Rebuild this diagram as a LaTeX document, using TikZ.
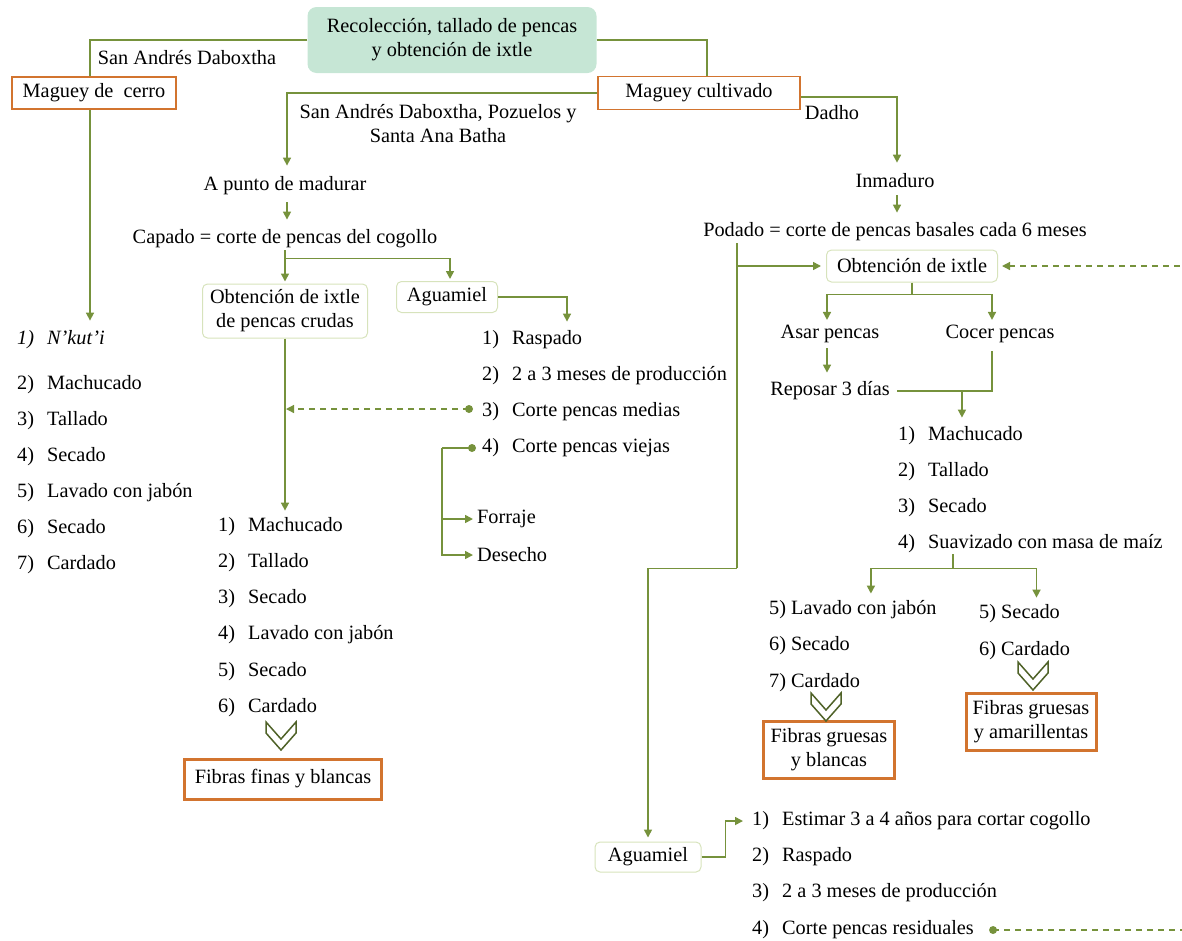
\documentclass[tikz,border=0pt]{standalone}
\usepackage{fontspec}
\setmainfont{Liberation Serif}
\usepackage{tikz}
\usetikzlibrary{arrows.meta,positioning,calc}
\definecolor{cOlive}{HTML}{76923C}
\definecolor{cDark}{HTML}{4F6228}
\definecolor{cOrange}{HTML}{D2742F}
\definecolor{cMint}{HTML}{C6E6D5}
\definecolor{cPale}{HTML}{D7E3BC}
\tikzset{
  obox/.style={draw=cOrange,line width=#1,align=center,inner xsep=6pt,inner ysep=3pt},
  obox/.default=1.5pt,
  gbox/.style={draw=cPale,rounded corners=5pt,line width=1pt,align=center,inner xsep=5pt,inner ysep=3pt},
  tbox/.style={fill=cMint,rounded corners=9pt,align=center},
  lbl/.style={align=center,inner sep=2pt},
  itm/.style={anchor=west,inner sep=1pt,yshift=-3pt},
  ln/.style={line width=1.6pt,color=cOlive},
  arr/.style={ln,-{Triangle[length=8pt,width=8pt]}},
  darr/.style={line width=1.3pt,color=cOlive,dash pattern=on 6pt off 5pt,-{Triangle[length=8pt,width=8pt]}},
  chev/.style={draw=cDark,fill=white,line width=1.5pt},
}
\newcommand{\itemnum}[1]{\makebox[30pt][l]{#1)}}

\begin{document}
\begin{tikzpicture}[x=1pt,y=-1pt,font=\fontsize{20.3}{24}\selectfont]
  \useasboundingbox (0,0) rectangle (1182,940);
  \node[tbox,minimum width=289pt,minimum height=66pt] (rec) at (452,40) {Recolección, tallado de pencas\\y obtención de ixtle};
  \node[obox,minimum width=164pt,minimum height=32pt] (cerro) at (94,93) {Maguey de\ \ cerro};
  \node[obox,minimum width=202pt,minimum height=33pt] (cult) at (699,93) {Maguey cultivado};
  \node[lbl] (lsad) at (187,58) {San Andrés Daboxtha};
  \node[lbl] (lpoz) at (438,124) {San Andrés Daboxtha, Pozuelos y\\Santa Ana Batha};
  \node[lbl] (ldad) at (832,113) {Dadho};
  \draw[ln] (rec.west) -| ([xshift=-4pt]cerro.north);
  \draw[ln] (rec.east) -| ([xshift=8pt]cult.north);

  % maguey de cerro
  \node[itm] (c1) at (16,337) {\itshape\itemnum{1}N’kut’i};
  \foreach \i/\yy/\t in {2/382/Machucado,3/418/Tallado,4/454/Secado,5/490/Lavado con jabón,6/526/Secado,7/562/Cardado}
    \node[itm] (c\i) at (16,\yy) {\itemnum{\i}\t};
  \draw[arr,shorten >=9pt] ([xshift=-4pt]cerro.south) -- ([xshift=-4pt]cerro.south |- c1.north);

  % a punto de madurar
  \node[lbl] (mad) at (285,186) {A punto de madurar};
  \node[lbl] (cap) at (285,239) {Capado = corte de pencas del cogollo};
  \draw[arr,shorten >=9pt] (cult.west) -| ([xshift=2pt]mad.north);
  \draw[arr,shorten <=5pt,shorten >=8pt] ([xshift=2pt]mad.south) -- ([xshift=2pt]cap.north);
  \node[gbox,minimum width=165pt,minimum height=54pt] (obc) at (285,311) {Obtención de ixtle\\de pencas crudas};
  \node[gbox,minimum width=101pt,minimum height=31pt] (ag1) at (447,297) {Aguamiel};
  \coordinate (f1) at ($(cap.south)+(0,8)$);
  \draw[arr,shorten >=2pt] (cap.south) -- (obc.north);
  \draw[arr,shorten >=2pt] (f1) -| ([xshift=3pt]ag1.north);
  \foreach \i/\yy/\t in {1/337/Raspado,2/373/2 a 3 meses de producción,3/409/Corte pencas medias,4/445/Corte pencas viejas}
    \node[itm] (a\i) at (481,\yy) {\itemnum{\i}\t};
  \draw[arr,shorten >=8pt] (ag1.east) -| ([xshift=86pt]a1.north west);
  \coordinate (d1) at ([xshift=-12pt,yshift=3pt]a3.west);
  \draw[darr,shorten >=1pt] (d1) -- (d1 -| obc.south);
  \fill[cOlive] (d1) circle (4pt);
  \coordinate (d2) at ([xshift=-9pt]a4.west);
  \coordinate (br) at ([xshift=-39pt]a4.west);
  \node[itm] (forr) at (476,516) {Forraje};
  \node[itm] (dese) at (476,552) {Desecho};
  \draw[ln] (d2) -- (br);
  \draw[arr,shorten >=3pt] (br) |- (forr.west);
  \draw[arr,shorten >=3pt] (br) |- (dese.west);
  \fill[cOlive] (d2) circle (4pt);
  \foreach \i/\yy/\t in {1/524/Machucado,2/560/Tallado,3/596/Secado,4/632/Lavado con jabón,5/669/Secado,6/705/Cardado}
    \node[itm] (m\i) at (217,\yy) {\itemnum{\i}\t};
  \draw[arr,shorten >=6pt] (obc.south) -- (obc.south |- m1.north);
  \node[obox=3pt,minimum width=197pt,minimum height=40pt] (fb1) at (283,779) {Fibras finas y blancas};

  % inmaduro
  \node[lbl] (inm) at (895,181) {Inmaduro};
  \node[lbl] (pod) at (895,232) {Podado = corte de pencas basales cada 6 meses};
  \draw[arr,shorten >=9pt] ([yshift=-4pt]cult.east) -| ([xshift=2pt]inm.north);
  \draw[arr,shorten <=5pt,shorten >=8pt] ([xshift=2pt]inm.south) -- ([xshift=2pt]pod.north);
  \node[gbox,minimum width=171pt,minimum height=32pt] (obx) at (912,266) {Obtención de ixtle};
  \coordinate (pv) at ([xshift=36pt]pod.south west);
  \coordinate (pb) at ($(pv)+(0,325)$);
  \draw[ln] (pv) -- (pb);
  \draw[arr,shorten >=5pt] (pv |- obx.west) -- (obx.west);
  \node[lbl] (asar) at (830,334) {Asar pencas};
  \node[lbl] (coc) at (1000,334) {Cocer pencas};
  \coordinate (f2) at ($(obx.south)+(0,12)$);
  \draw[ln] (obx.south) -- (f2);
  \draw[arr,shorten >=3pt] (f2) -| ([xshift=-3pt]asar.north);
  \draw[arr,shorten >=3pt] (f2) -| ([xshift=-8pt]coc.north);
  \node[lbl] (rep) at (830,391) {Reposar 3 días};
  \draw[arr,shorten <=3pt,shorten >=7pt] ([xshift=-3pt]asar.south) -- ([xshift=-3pt]rep.north);
  \draw[ln,shorten <=6pt] ([xshift=-8pt]coc.south) |- ([xshift=5pt]rep.east);
  \coordinate (rj) at ($(rep.east)+(70,0)$);
  \foreach \i/\yy/\t in {1/433/Machucado,2/469/Tallado,3/505/Secado,4/541/Suavizado con masa de maíz}
    \node[itm] (r\i) at (897,\yy) {\itemnum{\i}\t};
  \draw[arr,shorten >=8pt] (rj) -- (rj |- r1.north);
  \coordinate (f3t) at ([xshift=56pt]r4.south west);
  \coordinate (f3) at ($(f3t)+(0,14)$);
  \draw[ln] (f3t) -- (f3);
  \foreach \i/\yy/\t in {1/607/5) Lavado con jabón,2/643/6) Secado,3/680/7) Cardado}
    \node[itm] (w\i) at (768,\yy) {\t};
  \foreach \i/\yy/\t in {1/611/5) Secado,2/648/6) Cardado}
    \node[itm] (v\i) at (978,\yy) {\t};
  \draw[arr,shorten >=6pt] (f3) -| ([xshift=18pt]w1.north);
  \draw[arr,shorten >=6pt] (f3) -| ([xshift=17pt]v1.north);
  \node[obox=3pt,minimum width=131pt,minimum height=57pt] (fb2) at (829,750) {Fibras gruesas\\y blancas};
  \node[obox=3pt,minimum width=130pt,minimum height=57pt] (fb3) at (1031,722) {Fibras gruesas\\y amarillentas};
  \foreach \cx/\cy in {281/722,826/693,1033/662}
    \draw[chev] (\cx-15,\cy) -- (\cx,\cy+17) -- (\cx+15,\cy) -- (\cx+15,\cy+11) -- (\cx,\cy+28) -- (\cx-15,\cy+11) -- cycle;

  % aguamiel
  \node[gbox,minimum width=106pt,minimum height=30pt] (ag2) at (648,857) {Aguamiel};
  \draw[arr,shorten >=4pt] (pb) -| (ag2.north);
  \foreach \i/\yy/\t in {1/818/Estimar 3 a 4 años para cortar cogollo,2/854/Raspado,3/890/2 a 3 meses de producción,4/927/Corte pencas residuales}
    \node[itm] (b\i) at (751,\yy) {\itemnum{\i}\t};
  \draw[arr,shorten >=8pt] (ag2.east) -- ++(24,0) |- (b1.west);
  \coordinate (d3) at ([xshift=18pt]b4.east);
  \coordinate (rim) at (1183.5,0);
  \draw[darr,shorten >=4pt] (d3) -- (d3 -| rim) -- (rim |- obx.east) -- (obx.east);
  \fill[cOlive] (d3) circle (4pt);
\end{tikzpicture}
\end{document}
